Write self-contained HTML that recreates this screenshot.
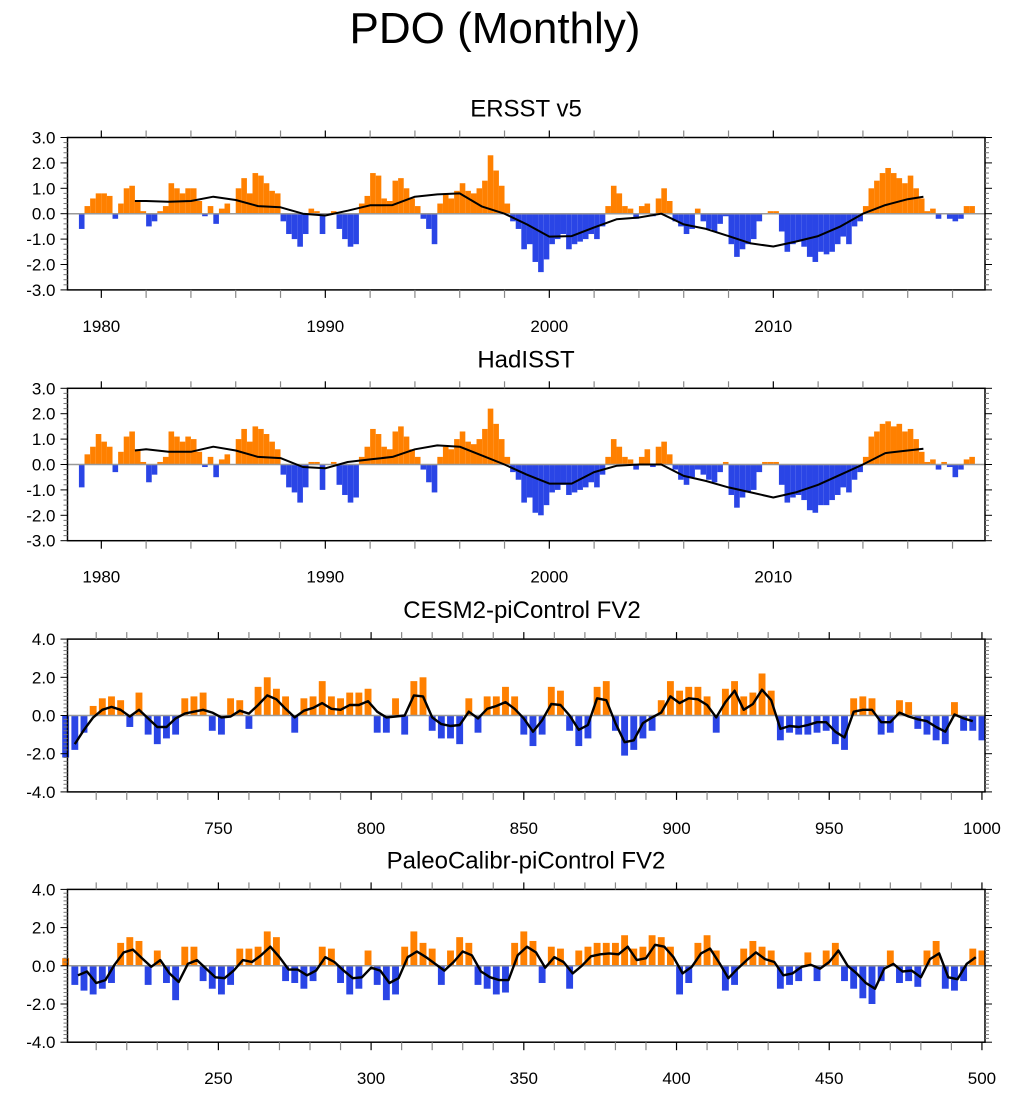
<!DOCTYPE html>
<html><head><meta charset="utf-8"><style>
body{margin:0;background:#fff;}
svg text{font-family:"Liberation Sans",sans-serif;fill:#000;}
</style></head><body>
<svg id="chart" width="1013" height="1094" viewBox="0 0 1013 1094" xmlns="http://www.w3.org/2000/svg">
<text x="495" y="43" font-size="44" text-anchor="middle">PDO (Monthly)</text>
</svg>
<script>
// ERSST v5 quarterly values 1979.0 .. 2018.75
const ersstStart = 1979;
const ersstBars = [-0.6,0.3,0.6,0.8, 0.8,0.7,-0.2,0.4, 1.0,1.1,0.5,0.1, -0.5,-0.3,0.1,0.3, 1.2,1.0,0.8,1.0, 1.0,0.5,-0.1,0.3, -0.4,0.2,0.4,0.0, 1.0,1.4,0.8,1.6, 1.5,1.2,0.9,0.8, -0.3,-0.8,-1.0,-1.3, -0.8,0.2,0.1,-0.8, 0.0,0.1,-0.6,-1.0, -1.3,-1.2,0.4,0.7, 1.6,1.5,0.6,0.5, 1.3,1.4,1.0,0.6, 0.3,-0.2,-0.6,-1.2, 0.4,0.8,0.6,0.9, 1.2,0.9,0.8,1.0, 1.3,2.3,1.7,1.1, 0.4,-0.3,-0.6,-1.4, -1.2,-1.9,-2.3,-1.8, -1.2,-1.0,-0.8,-1.4, -1.2,-1.1,-1.0,-0.8, -1.0,-0.5,0.3,1.1, 0.8,0.3,0.2,-0.2, 0.3,0.4,-0.1,0.6, 1.0,0.5,-0.3,-0.5, -0.8,-0.6,0.2,-0.3, -0.6,-0.7,-0.4,-0.1, -1.2,-1.7,-1.4,-1.2, -1.0,-0.3,0.0,0.1, 0.1,-0.7,-1.5,-1.2, -1.1,-1.3,-1.7,-1.9, -1.5,-1.6,-1.5,-1.2, -0.9,-1.2,-0.5,-0.3, 0.3,1.0,1.3,1.6, 1.8,1.6,1.4,1.2, 1.5,1.0,0.6,0.1, 0.2,-0.2,0.0,-0.2, -0.3,-0.2,0.3,0.3];
const ersstLineYears = [1981.5,1982,1983,1984,1985,1986,1987,1988,1989,1990,1991,1992,1993,1994,1995,1996,1997,1998,1999,2000,2001,2002,2003,2004,2005,2006,2007,2008,2009,2010,2011,2012,2013,2014,2015,2016,2016.7];
const ersstLine = [0.5,0.5,0.47,0.5,0.67,0.54,0.3,0.25,0.0,-0.07,0.12,0.33,0.34,0.67,0.76,0.8,0.28,0.0,-0.42,-0.9,-0.88,-0.54,-0.22,-0.15,0.0,-0.42,-0.6,-0.88,-1.17,-1.29,-1.1,-0.88,-0.5,0.0,0.34,0.57,0.67];
// HadISST quarterly
const hadBars = [-0.9,0.4,0.7,1.2, 0.9,0.7,-0.3,0.5, 1.1,1.3,0.6,0.1, -0.7,-0.4,0.1,0.3, 1.3,1.1,0.9,1.1, 1.0,0.5,-0.1,0.3, -0.5,0.2,0.4,0.0, 1.0,1.4,0.9,1.5, 1.4,1.2,0.9,0.6, -0.4,-0.9,-1.1,-1.5, -0.9,0.1,0.1,-1.0, 0.0,0.1,-0.8,-1.2, -1.5,-1.3,0.3,0.7, 1.4,1.2,0.7,0.6, 1.3,1.5,1.1,0.6, 0.3,-0.2,-0.7,-1.1, 0.3,0.7,0.6,1.0, 1.3,0.9,0.8,1.0, 1.4,2.2,1.6,1.0, 0.3,-0.3,-0.6,-1.5, -1.3,-1.9,-2.0,-1.6, -1.1,-1.0,-0.8,-1.2, -1.1,-1.0,-0.9,-0.7, -0.9,-0.4,0.3,1.0, 0.7,0.3,0.2,-0.2, 0.3,0.6,-0.1,0.7, 0.9,0.4,-0.2,-0.6, -0.8,-0.5,-0.2,-0.4, -0.6,-0.7,-0.3,0.1, -1.2,-1.7,-1.3,-1.1, -1.0,-0.3,0.1,0.1, 0.1,-0.8,-1.5,-1.3, -1.2,-1.4,-1.8,-1.9, -1.6,-1.6,-1.4,-1.2, -0.9,-1.1,-0.6,-0.3, 0.3,1.1,1.3,1.6, 1.7,1.5,1.6,1.3, 1.4,1.0,0.5,0.1, 0.2,-0.2,0.1,-0.1, -0.5,-0.2,0.2,0.3];
const hadLineYears = [1981.5,1982,1983,1984,1985,1986,1987,1988,1989,1990,1991,1992,1993,1994,1995,1996,1997,1998,1999,2000,2001,2002,2003,2004,2005,2006,2007,2008,2009,2010,2011,2012,2013,2014,2015,2016,2016.7];
const hadLine = [0.55,0.6,0.5,0.5,0.7,0.55,0.3,0.25,-0.1,-0.15,0.1,0.2,0.3,0.6,0.75,0.7,0.35,0.0,-0.4,-0.75,-0.75,-0.3,-0.05,0.0,0.0,-0.45,-0.65,-0.9,-1.1,-1.3,-1.1,-0.8,-0.4,0.0,0.45,0.55,0.62];
// CESM2-piControl, 3-year steps from 700
const cesmStart = 700;
const cesmBars = [-2.2,-1.8,-0.9,0.5,0.9,1.0,0.8,-0.6,1.2,-1.0,-1.5,-1.2,-1.0,0.9,1.0,1.2,-0.8,-1.0,0.9,0.8,-0.7,1.5,2.0,1.4,1.0,-0.9,0.9,1.0,1.8,1.0,0.9,1.2,1.2,1.4,-0.9,-0.9,0.9,-1.0,1.8,2.0,-0.8,-1.2,-1.2,-1.5,0.9,-0.9,1.0,1.0,1.5,1.0,-1.0,-1.6,-1.0,1.5,1.3,-0.8,-1.6,-1.2,1.5,1.8,-0.8,-2.1,-1.8,-1.2,-0.8,0.8,1.8,1.3,1.5,1.5,1.0,-0.9,1.4,1.8,1.0,1.2,2.2,1.3,-1.3,-0.9,-1.0,-1.0,-0.9,-0.8,-1.5,-1.8,0.9,1.0,0.9,-1.0,-0.9,0.8,0.7,-0.7,-1.0,-1.3,-1.5,0.7,-0.8,-0.8,-1.3];
const cesmLineStart = 703;
const cesmLine = [-1.5,-0.75,-0.1,0.3,0.45,0.3,-0.05,0.3,-0.15,-0.6,-0.6,-0.15,0.1,0.2,0.3,0.15,-0.1,-0.05,0.25,0.1,0.55,1.05,0.85,0.35,-0.1,0.25,0.4,0.65,0.35,0.3,0.55,0.55,0.75,0.2,-0.1,-0.05,0,1.05,1.0,-0.1,-0.45,-0.55,-0.5,0.2,-0.15,0.35,0.5,0.7,0.35,-0.15,-0.85,-0.25,0.6,0.55,0,-0.75,-0.5,0.9,0.8,-0.4,-1.4,-1.3,-0.4,-0.1,0.15,1.0,0.65,0.9,0.85,0.55,-0.1,0.7,1.3,0.3,0.6,1.35,0.8,-0.7,-0.55,-0.6,-0.5,-0.35,-0.35,-0.85,-1.15,0.2,0.3,0.3,-0.35,-0.35,0.15,-0.05,-0.2,-0.3,-0.6,-0.85,0.05,-0.15,-0.3];
// PaleoCalibr-piControl, 3-year steps from 200
const paleoStart = 200;
const paleoBars = [0.4,-1.0,-1.3,-1.5,-1.2,-0.9,1.2,1.5,1.3,-1.0,0.8,-0.9,-1.8,1.0,1.0,-0.8,-1.2,-1.5,-1.0,0.9,0.9,1.0,1.8,1.5,-0.8,-0.9,-1.2,-0.8,1.0,0.9,-0.9,-1.5,-1.2,0.8,-1.0,-1.8,-1.5,1.0,1.8,1.2,0.9,-1.0,0.8,1.5,1.2,-1.0,-1.2,-1.5,-1.4,1.2,1.8,1.3,-0.9,1.0,0.9,-1.2,0.8,1.0,1.2,1.2,1.2,1.6,0.9,1.0,1.6,1.5,1.0,-1.5,-0.9,1.2,1.6,0.8,-1.3,-1.0,0.9,1.3,1.0,0.8,-1.2,-1.0,-0.8,0.7,-0.8,0.8,1.2,-0.8,-1.2,-1.7,-2.0,-0.8,0.8,-0.9,-0.8,-1.1,0.8,1.3,-1.2,-1.3,-0.8,0.9,0.8];
const paleoLineStart = 204;
const paleoLine = [-0.5,-0.3,-0.9,-0.75,0.05,0.7,0.85,0.4,-0.05,0.3,-0.4,-0.85,0.1,0.3,-0.15,-0.6,-0.65,-0.25,0.3,0.2,0.55,1.0,0.45,-0.2,-0.2,-0.5,-0.25,0.45,0.2,-0.25,-0.65,-0.6,-0.1,-0.25,-0.9,-0.65,0.45,0.75,0.45,0.1,-0.25,0.2,0.75,0.55,-0.3,-0.6,-0.75,-0.75,0.55,1.0,0.7,-0.1,0.45,0.2,-0.4,0,0.5,0.6,0.65,0.6,1.0,0.3,0.4,1.1,1.0,0.45,-0.4,-0.05,0.65,0.9,0.15,-0.65,-0.15,0.3,0.7,0.35,0.2,-0.5,-0.4,-0.05,0.05,-0.15,0.2,0.8,0,-0.4,-0.9,-1.2,-0.15,0.1,-0.3,-0.25,-0.6,0.35,0.65,-0.6,-0.7,0.1,0.45];

const NS='http://www.w3.org/2000/svg';
const svg=document.getElementById('chart');
function mk(tag,attrs,parent){const e=document.createElementNS(NS,tag);for(const k in attrs)e.setAttribute(k,attrs[k]);(parent||svg).appendChild(e);return e;}
const X0=67.5,X1=985;

function panel(o){
  const g=mk('g',{});
  
  
  const xs=v=>X0+(v-o.xmin)/(o.xmax-o.xmin)*(X1-X0);
  const ys=v=>o.zero-v*o.ppu;
  const top=ys(o.ymax),bot=ys(-o.ymax);
  const t=mk('text',{x:o.titleX,y:top-21,'font-size':24,'text-anchor':'middle'},g);
  t.textContent=o.title;
  
  
  const bg=mk('g',{},g);
  
  
  o.bars.forEach((v,i)=>{
    const a=xs(o.barStart+i*o.barStep),b=xs(o.barStart+(i+1)*o.barStep);
    const w=Math.max(0.5,(b-a)*o.barFrac);
    const r=mk('rect',{x:a+((b-a)-w)/2,width:w,y:Math.min(ys(0),ys(v)),height:Math.abs(ys(v)-ys(0)),fill:v>=0?'#ff8000':'#2a45e6'},bg);
    
    
  });
  mk('line',{x1:X0,x2:X1,y1:ys(0),y2:ys(0),stroke:'#999','stroke-width':1.5},g);
  const pts=o.lineVals.map((v,i)=>xs(o.lineYears?o.lineYears[i]:o.lineStart+i*o.lineStep).toFixed(1)+','+ys(v).toFixed(1)).join(' ');
  const pl=mk('polyline',{points:pts,fill:'none',stroke:'#000','stroke-width':o.lw,'stroke-linejoin':'round'},g);
  
  
  mk('rect',{x:X0,y:top,width:X1-X0,height:bot-top,fill:'none',stroke:'#000','stroke-width':1.5},g);
  for(let k=-o.ymax*5;k<=o.ymax*5;k++){
    const y=ys(k/5), major=(k%5===0)&&(o.ymax===3||k%10===0);
    const len=major?7:4;
    mk('line',{x1:X0-len,x2:X0,y1:y,y2:y,stroke:major?'#000':'#777','stroke-width':1},g);
    mk('line',{x1:X1,x2:X1+len,y1:y,y2:y,stroke:major?'#000':'#777','stroke-width':1},g);
  }
  o.yLabels.forEach(v=>{
    const tl=mk('text',{x:X0-12,y:ys(v)+6,'font-size':17,'text-anchor':'end'},g);
    tl.textContent=v.toFixed(1);
    
    
  });
  for(let v=Math.ceil(o.xmin/o.minor)*o.minor; v<=o.xmax; v+=o.minor){
    const x=xs(v), major=(Math.round(v)%o.major===0);
    const c=major?'#000':'#888';
    mk('line',{x1:x,x2:x,y1:top-7,y2:top,stroke:c,'stroke-width':1.2},g);
    mk('line',{x1:x,x2:x,y1:bot,y2:bot+8,stroke:c,'stroke-width':1.2},g);
  }
  o.xLabels.forEach(v=>{
    const tl=mk('text',{x:xs(v),y:bot+42,'font-size':17,'text-anchor':'middle'},g);
    tl.textContent=String(v);
    
    
  });
}
panel({name:'ersst',title:'ERSST v5',titleX:526,xmin:1978.49,xmax:2019.45,zero:213.7,ppu:25.4,ymax:3,
  bars:ersstBars,barStart:ersstStart,barStep:0.25,barFrac:1,lineYears:ersstLineYears,lineVals:ersstLine,lw:2,
  yLabels:[3,2,1,0,-1,-2,-3],xLabels:[1980,1990,2000,2010],minor:2,major:10});
panel({name:'hadisst',title:'HadISST',titleX:526,xmin:1978.49,xmax:2019.45,zero:464.5,ppu:25.4,ymax:3,
  bars:hadBars,barStart:ersstStart,barStep:0.25,barFrac:1,lineYears:hadLineYears,lineVals:hadLine,lw:2,
  yLabels:[3,2,1,0,-1,-2,-3],xLabels:[1980,1990,2000,2010],minor:2,major:10});
panel({name:'cesm2',title:'CESM2-piControl FV2',titleX:522,xmin:700.6,xmax:1001,zero:715.5,ppu:19.1,ymax:4,
  bars:cesmBars,barStart:cesmStart-1.5,barStep:3,barFrac:0.75,lineStart:cesmLineStart,lineStep:3,lineVals:cesmLine,lw:2.4,
  yLabels:[4,2,0,-2,-4],xLabels:[750,800,850,900,950,1000],minor:10,major:50});
panel({name:'paleocalibr',title:'PaleoCalibr-piControl FV2',titleX:526,xmin:200.6,xmax:501,zero:965.8,ppu:19.1,ymax:4,
  bars:paleoBars,barStart:paleoStart-1.5,barStep:3,barFrac:0.75,lineStart:paleoLineStart,lineStep:3,lineVals:paleoLine,lw:2.4,
  yLabels:[4,2,0,-2,-4],xLabels:[250,300,350,400,450,500],minor:10,major:50});
</script>
</body></html>
